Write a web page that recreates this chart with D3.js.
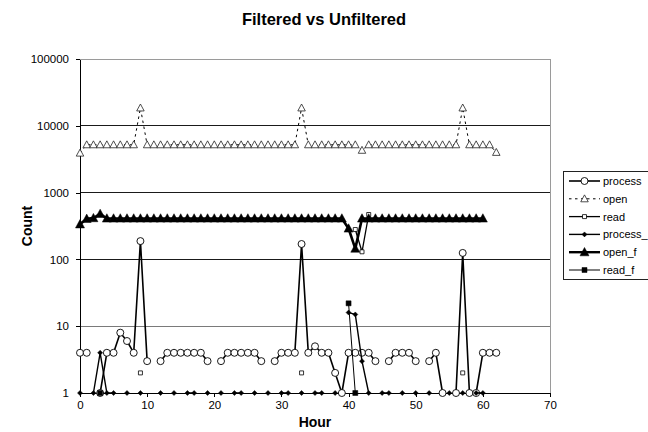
<!DOCTYPE html>
<html><head><meta charset="utf-8">
<script src="https://cdn.jsdelivr.net/npm/d3@7"></script>
<style>
body{margin:0;background:#fff}
svg{display:block}
text{font-family:"Liberation Sans",Arial,sans-serif;fill:#000}
</style>
</head><body>
<svg id="c" width="648" height="432"></svg>
<script>
// ---------------- DATA ----------------
const hours = [0,1,2,3,4,5,6,7,8,9,10,11,12,13,14,15,16,17,18,19,20,21,22,23,24,25,26,27,28,29,30,
  31,32,33,34,35,36,37,38,39,40,41,42,43,44,45,46,47,48,49,50,51,52,53,54,55,56,57,58,59,60,61,62];
const xTicks = [0,10,20,30,40,50,60,70];
const yTicks = [1,10,100,1000,10000,100000];
const _ = null;

const processVals = [4,4,_,1,4,4,8,6,4,188,3,_,3,4,4,4,4,4,4,3,_,3,4,4,4,4,4,3,_,3,4,
  4,4,170,4,5,4,4,2,1,4,4,4,4,3,_,3,4,4,4,3,_,3,4,1,_,1,125,1,1,4,4,4];
const openVals = [3900,5200,5200,5200,5200,5200,5200,5200,5200,18500,5200,5200,5200,5200,5200,5200,
  5200,5200,5200,5200,5200,5200,5200,5200,5200,5200,5200,5200,5200,5200,5200,5200,5200,18500,5200,
  5200,5200,5200,5200,5200,5200,5200,4300,5200,5200,5200,5200,5200,5200,5200,5200,5200,5200,5200,
  5200,5200,5200,18500,5200,5200,5200,5200,4000];
const readVals = [_,_,_,_,_,_,_,_,_,2,_,_,_,_,_,_,_,_,_,_,_,_,_,_,_,_,_,_,_,_,_,
  _,_,2,_,_,_,_,_,_,_,280,130,470,_,_,_,_,_,_,_,_,_,_,_,_,_,2,_,_,_,_,_];
const processFVals = [1,_,1,4,1,1,_,1,_,1,_,_,1,_,1,_,1,1,_,1,_,1,_,1,1,_,1,_,1,_,1,
  1,_,1,_,1,1,_,1,_,16,15,3,1,_,1,1,_,1,_,1,_,1,_,_,1,_,1,_,1,1,_,_];
const openFVals = [335,405,415,480,410,410,410,410,410,410,410,410,410,410,410,410,410,410,410,410,
  410,410,410,410,410,410,410,410,410,410,410,410,410,410,410,410,410,410,410,410,290,145,410,410,
  410,410,410,410,410,410,410,410,410,410,410,410,410,410,410,410,410,_,_];
const readFVals = [_,_,_,1,_,_,_,_,_,_,_,_,_,_,_,_,_,_,_,_,_,_,_,_,_,_,_,_,_,_,_,
  _,_,_,_,_,_,_,_,_,22,1,_,_,_,_,_,_,_,_,_,_,_,_,_,_,_,_,_,_,_,_,_];
// legend labels as visible in the reference (the 4th is cut at the chart edge there)
const seriesNames = ["process","open","read","process_","open_f","read_f"];

// ---------------- STYLES ----------------
const styles = [
  {values: processVals,  marker:"circle",   size:7,   fill:"#fff", mstroke:"#000", mw:0.9, lw:1.6, dash:null},
  {values: openVals,     marker:"triangle", size:7.5, fill:"#fff", mstroke:"#222", mw:0.8, lw:1,   dash:"2.5,3.5"},
  {values: readVals,     marker:"square",   size:4,   fill:"#fff", mstroke:"#000", mw:0.8, lw:1.3, dash:null},
  {values: processFVals, marker:"diamond",  size:5,   fill:"#000", mstroke:"#000", mw:0.5, lw:1.4, dash:null},
  {values: openFVals,    marker:"triangle", size:9,   fill:"#000", mstroke:"#000", mw:0.5, lw:2.6, dash:null},
  {values: readFVals,    marker:"square",   size:5,   fill:"#000", mstroke:"#000", mw:0.5, lw:1,   dash:null}
];

function markerPath(type, s){
  const h = s/2;
  if(type==="triangle") return `M0,${-h*1.05}L${h},${h*0.8}L${-h},${h*0.8}Z`;
  if(type==="square") return `M${-h},${-h}H${h}V${h}H${-h}Z`;
  if(type==="diamond") return `M0,${-h}L${h},0L0,${h}L${-h},0Z`;
  return d3.symbol().type(d3.symbolCircle).size(Math.PI*h*h)();
}

// ---------------- CHART ----------------
const svg = d3.select("#c");
svg.append("rect").attr("width",648).attr("height",432).attr("fill","#fff");

const plot = {l:80, r:550, t:59, b:393};
const x = d3.scaleLinear().domain([0,70]).range([plot.l, plot.r]);
const y = d3.scaleLog().domain([1,100000]).range([plot.b, plot.t]);

// gridlines
const grid = svg.append("g");
yTicks.filter(v => v>1 && v<100000).forEach(v=>{
  grid.append("line").attr("x1",plot.l).attr("x2",plot.r)
    .attr("y1",y(v)).attr("y2",y(v))
    .attr("stroke", v===10 ? "#7a7a7a" : "#1a1a1a").attr("stroke-width",1)
    .attr("shape-rendering","crispEdges");
});
// plot area border (top/right)
grid.append("path")
  .attr("d",`M${plot.l},${y(100000)}H${plot.r}V${plot.b}`)
  .attr("fill","none").attr("stroke","#9a9a9a").attr("stroke-width",1)
  .attr("shape-rendering","crispEdges");

// axes
const xAxis = d3.axisBottom(x).tickValues(xTicks).tickSize(4).tickSizeOuter(0).tickPadding(4);
const yAxis = d3.axisLeft(y).tickValues(yTicks).tickFormat(d3.format("d")).tickSize(4).tickSizeOuter(0).tickPadding(7);
const gx = svg.append("g").attr("transform",`translate(0,${plot.b})`).call(xAxis);
const gy = svg.append("g").attr("transform",`translate(${plot.l},0)`).call(yAxis);
[gx,gy].forEach(g=>{
  g.selectAll("path.domain").attr("stroke","#000").attr("shape-rendering","crispEdges");
  g.selectAll(".tick line").attr("stroke","#000").attr("shape-rendering","crispEdges");
  g.selectAll(".tick text").style("font-family",'"Liberation Sans",Arial,sans-serif')
    .style("font-size","11.5px").attr("fill","#000");
});
gy.select(".tick line").remove();

// series
const lineGen = d3.line().defined(d => d.v != null).x(d => x(d.h)).y(d => y(d.v));
const layer = svg.append("g");
styles.forEach((s,i)=>{
  const pts = hours.map((h,k)=>({h:h, v:s.values[k]}));
  layer.append("path").datum(pts).attr("d",lineGen)
    .attr("fill","none").attr("stroke","#000").attr("stroke-width",s.lw)
    .attr("stroke-linejoin","round")
    .attr("stroke-dasharray", s.dash);
  layer.append("g").selectAll("path").data(pts.filter(d=>d.v!=null)).join("path")
    .attr("transform", d=>`translate(${x(d.h)},${y(d.v)})`)
    .attr("d", markerPath(s.marker, s.size))
    .attr("fill", s.fill).attr("stroke", s.mstroke).attr("stroke-width", s.mw);
});

// title and axis titles
svg.append("text").attr("x",324).attr("y",25).attr("text-anchor","middle")
  .style("font-size","16.5px").style("font-weight","bold").text("Filtered vs Unfiltered");
svg.append("text").attr("x",315).attr("y",427).attr("text-anchor","middle")
  .style("font-size","14px").style("font-weight","bold").text("Hour");
svg.append("text").attr("transform","translate(32,226) rotate(-90)").attr("text-anchor","middle")
  .style("font-size","14px").style("font-weight","bold").text("Count");

// legend
const lg = svg.append("g");
lg.append("rect").attr("x",563.5).attr("y",171.5).attr("width",110).attr("height",108)
  .attr("fill","#fff").attr("stroke","#222").attr("stroke-width",1);
seriesNames.forEach((name,i)=>{
  const s = styles[i];
  const ry = 181 + i*17.8;
  lg.append("line").attr("x1",569).attr("x2",600).attr("y1",ry).attr("y2",ry)
    .attr("stroke","#000").attr("stroke-width",Math.min(s.lw,2.4)).attr("stroke-dasharray",s.dash);
  lg.append("path").attr("transform",`translate(584.5,${ry})`).attr("d",markerPath(s.marker,s.size))
    .attr("fill",s.fill).attr("stroke",s.mstroke).attr("stroke-width",s.mw);
  lg.append("text").attr("x",603).attr("y",ry+4).style("font-size","11px").text(name);
});
</script>
</body></html>
